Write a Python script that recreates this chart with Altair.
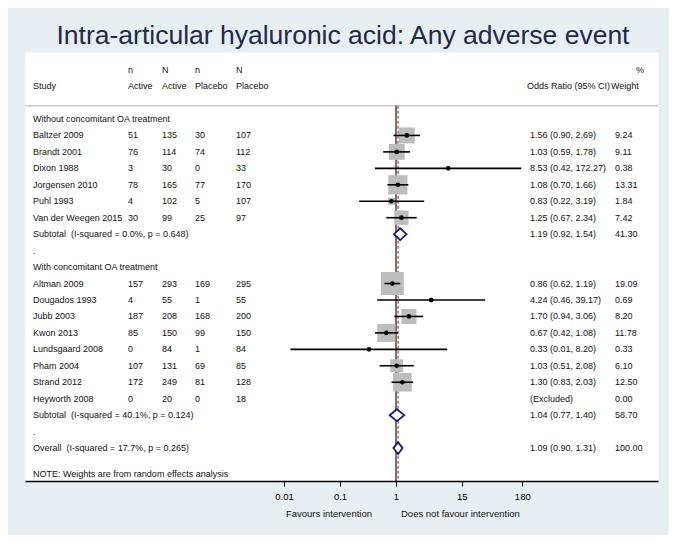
import altair as alt
import pandas as pd

# ---------------- data ----------------
title_text = "Intra-articular hyaluronic acid: Any adverse event"

studies = ["Baltzer 2009", "Brandt 2001", "Dixon 1988", "Jorgensen 2010", "Puhl 1993",
           "Van der Weegen 2015",
           "Altman 2009", "Dougados 1993", "Jubb 2003", "Kwon 2013", "Lundsgaard 2008",
           "Pham 2004", "Strand 2012", "Heyworth 2008"]
n_active = [51, 76, 3, 78, 4, 30, 157, 4, 187, 85, 0, 107, 172, 0]
N_active = [135, 114, 30, 165, 102, 99, 293, 55, 208, 150, 84, 131, 249, 20]
n_placebo = [30, 74, 0, 77, 5, 25, 169, 1, 168, 99, 1, 69, 81, 0]
N_placebo = [107, 112, 33, 170, 107, 97, 295, 55, 200, 150, 84, 85, 128, 18]
odds = [1.56, 1.03, 8.53, 1.08, 0.83, 1.25, 0.86, 4.24, 1.70, 0.67, 0.33, 1.03, 1.30, None]
ci_lo = [0.90, 0.59, 0.42, 0.70, 0.22, 0.67, 0.62, 0.46, 0.94, 0.42, 0.013, 0.51, 0.83, None]
ci_hi = [2.69, 1.78, 172.27, 1.66, 3.19, 2.34, 1.19, 39.17, 3.06, 1.08, 8.20, 2.08, 2.03, None]
ci_text = ["1.56 (0.90, 2.69)", "1.03 (0.59, 1.78)", "8.53 (0.42, 172.27)", "1.08 (0.70, 1.66)",
           "0.83 (0.22, 3.19)", "1.25 (0.67, 2.34)",
           "0.86 (0.62, 1.19)", "4.24 (0.46, 39.17)", "1.70 (0.94, 3.06)", "0.67 (0.42, 1.08)",
           "0.33 (0.01, 8.20)", "1.03 (0.51, 2.08)", "1.30 (0.83, 2.03)", "(Excluded)"]
weights = [9.24, 9.11, 0.38, 13.31, 1.84, 7.42, 19.09, 0.69, 8.20, 11.78, 0.33, 6.10, 12.50, 0.00]
study_rows = [1, 2, 3, 4, 5, 6, 10, 11, 12, 13, 14, 15, 16, 17]

pooled_labels = ["Subtotal\u00a0 (I-squared = 0.0%, p = 0.648)",
                 "Subtotal\u00a0 (I-squared = 40.1%, p = 0.124)",
                 "Overall\u00a0 (I-squared = 17.7%, p = 0.265)"]
pooled_or = [1.19, 1.04, 1.09]
pooled_lo = [0.92, 0.77, 0.90]
pooled_hi = [1.54, 1.40, 1.31]
pooled_text = ["1.19 (0.92, 1.54)", "1.04 (0.77, 1.40)", "1.09 (0.90, 1.31)"]
pooled_weight = [41.30, 58.70, 100.00]
pooled_rows = [7, 18, 20]

other_labels = ["Without concomitant OA treatment", ".", "With concomitant OA treatment", ".",
                "NOTE: Weights are from random effects analysis"]
other_rows = [0, 8, 9, 19, 21.6]

header1 = ["n", "N", "n", "N", "%"]
header2 = ["Study", "Active", "Active", "Placebo", "Placebo", "Odds Ratio (95% CI)", "Weight"]
axis_ticks = [0.01, 0.1, 1, 15, 180]
favours_left = "Favours intervention"
favours_right = "Does not favour intervention"

# ---------------- layout / style ----------------
W, H = 633, 429
FONT = "Liberation Sans"
FS = 9
BG = "#e8eff3"
X_PER_DECADE = 56.0
X_AT_ONE = 371.0
xdom = [10 ** (-X_AT_ONE / X_PER_DECADE), 10 ** ((W - X_AT_ONE) / X_PER_DECADE)]
ydom = [-4.07, 22.0]

xscale = alt.Scale(type="log", domain=xdom, nice=False, zero=False)
yscale = alt.Scale(domain=ydom, reverse=True, nice=False, zero=False)
xaxis = alt.Axis(values=axis_ticks, format="~g", grid=False, domainColor="#000000",
                 domainWidth=1.3, tickColor="#000000", tickSize=5, tickWidth=1,
                 labelFont=FONT, labelFontSize=9.5, labelColor="#000000", labelPadding=5,
                 title="")
Y = lambda f="row": alt.Y(f"{f}:Q", scale=yscale, axis=None)

studies_df = pd.DataFrame({
    "row": study_rows, "study": studies,
    "nA": [str(v) for v in n_active], "NA": [str(v) for v in N_active],
    "nP": [str(v) for v in n_placebo], "NP": [str(v) for v in N_placebo],
    "or": odds, "lo": ci_lo, "hi": ci_hi, "ortext": ci_text,
    "weight": weights, "wtext": [f"{w:.2f}" for w in weights],
})
est_df = studies_df.dropna(subset=["or"])

pooled_df = pd.DataFrame({
    "row": pooled_rows, "label": pooled_labels, "or": pooled_or, "lo": pooled_lo,
    "hi": pooled_hi, "ortext": pooled_text,
    "wtext": [f"{w:.2f}" for w in pooled_weight],
})

label_df = pd.DataFrame({
    "row": study_rows + pooled_rows + other_rows,
    "text": studies + pooled_labels + other_labels,
})

HALF = 0.36
dia = []
for i, r in enumerate(pooled_rows):
    dia.append({"g": i, "y": r - HALF, "x": pooled_or[i], "x2": pooled_or[i]})
    dia.append({"g": i, "y": r, "x": pooled_lo[i], "x2": pooled_hi[i]})
    dia.append({"g": i, "y": r + HALF, "x": pooled_or[i], "x2": pooled_or[i]})
dia_df = pd.DataFrame(dia)


def text_layer(df, field, xpx, align="left", size=FS, color="#111111"):
    return alt.Chart(df).mark_text(align=align, baseline="middle", font=FONT, fontSize=size,
                                   color=color).encode(
        x=alt.value(xpx), y=Y(), text=f"{field}:N")


TEXT_X = {"study": 8, "nA": 103, "NA": 137, "nP": 170, "NP": 211, "or": 505, "w": 590}

layers = []

# separator line below header
sep = alt.Chart(pd.DataFrame({"r": [-0.8]})).mark_rule(color="#c9c9c9", strokeWidth=1.5).encode(
    y=alt.Y("r:Q", scale=yscale, axis=None), x=alt.value(0), x2=alt.value(W))
layers.append(sep)

# null line at OR = 1
null_line = alt.Chart(pd.DataFrame({"v": [1], "r": [-0.8], "r2": [ydom[1]]})).mark_rule(
    color="#000000", strokeWidth=1.1).encode(
    x=alt.X("v:Q", scale=xscale, axis=xaxis),
    y=alt.Y("r:Q", scale=yscale, axis=None), y2="r2:Q")
layers.append(null_line)

# dashed overall estimate line
overall_df = pooled_df.iloc[[2]].assign(r=-0.8, r2=ydom[1])
dash_line = alt.Chart(overall_df).mark_rule(color="#8b3a3a", strokeWidth=1.1,
                                            strokeDash=[3, 2]).encode(
    x=alt.X("or:Q", scale=xscale, axis=xaxis),
    y=alt.Y("r:Q", scale=yscale, axis=None), y2="r2:Q")
layers.append(dash_line)

# weight squares
squares = alt.Chart(est_df).mark_square(color="#bdbdbd", opacity=1).encode(
    x=alt.X("or:Q", scale=xscale, axis=xaxis), y=Y(),
    size=alt.Size("weight:Q", scale=alt.Scale(domain=[0, 20], range=[0, 554]), legend=None))
layers.append(squares)

# CI lines
ci = alt.Chart(est_df).mark_rule(color="#000000", strokeWidth=1.6).encode(
    x=alt.X("lo:Q", scale=xscale, axis=xaxis), x2="hi:Q", y=Y())
layers.append(ci)

# point estimates
pts = alt.Chart(est_df).mark_point(filled=True, color="#000000", size=22, opacity=1).encode(
    x=alt.X("or:Q", scale=xscale, axis=xaxis), y=Y())
layers.append(pts)

# diamonds
diamonds = alt.Chart(dia_df).mark_area(orient="horizontal", fill="#ffffff", stroke="#1a1a78",
                                       strokeWidth=1.8, opacity=1).encode(
    y=alt.Y("y:Q", scale=yscale, axis=None),
    x=alt.X("x:Q", scale=xscale, axis=xaxis), x2="x2:Q", detail="g:N")
layers.append(diamonds)

# texts
layers.append(text_layer(label_df, "text", TEXT_X["study"]))
layers.append(text_layer(studies_df, "nA", TEXT_X["nA"]))
layers.append(text_layer(studies_df, "NA", TEXT_X["NA"]))
layers.append(text_layer(studies_df, "nP", TEXT_X["nP"]))
layers.append(text_layer(studies_df, "NP", TEXT_X["NP"]))
layers.append(text_layer(studies_df, "ortext", TEXT_X["or"]))
layers.append(text_layer(studies_df, "wtext", TEXT_X["w"]))
layers.append(text_layer(pooled_df, "ortext", TEXT_X["or"]))
layers.append(text_layer(pooled_df, "wtext", TEXT_X["w"]))

# headers
hdr1_x = [103, 137, 170, 211, 611]
for t, xp in zip(header1, hdr1_x):
    layers.append(text_layer(pd.DataFrame({"row": [-3], "text": [t]}), "text", xp))
hdr2_x = [8, 103, 137, 170, 211, 502, 586]
for t, xp in zip(header2, hdr2_x):
    layers.append(text_layer(pd.DataFrame({"row": [-2], "text": [t]}), "text", xp))

# title
layers.append(alt.Chart(pd.DataFrame({"t": [title_text]})).mark_text(
    align="center", baseline="alphabetic", font=FONT, fontSize=26.5, color="#1e2a4c").encode(
    x=alt.value(318), y=alt.value(-8), text="t:N"))

# favours labels
layers.append(alt.Chart(pd.DataFrame({"t": [favours_left]})).mark_text(
    align="right", baseline="middle", font=FONT, fontSize=9.5, color="#111111").encode(
    x=alt.value(347), y=alt.value(H + 33), text="t:N"))
layers.append(alt.Chart(pd.DataFrame({"t": [favours_right]})).mark_text(
    align="left", baseline="middle", font=FONT, fontSize=9.5, color="#111111").encode(
    x=alt.value(376), y=alt.value(H + 33), text="t:N"))

chart = alt.layer(*layers).properties(
    width=W, height=H,
    autosize=alt.AutoSizeParams(type="none"),
    padding={"left": 17, "top": 44, "right": 11, "bottom": 54},
    background=BG,
).configure_view(fill="#ffffff", strokeOpacity=0)

chart.save("out.html", embed_options={"renderer": "svg", "actions": False})
